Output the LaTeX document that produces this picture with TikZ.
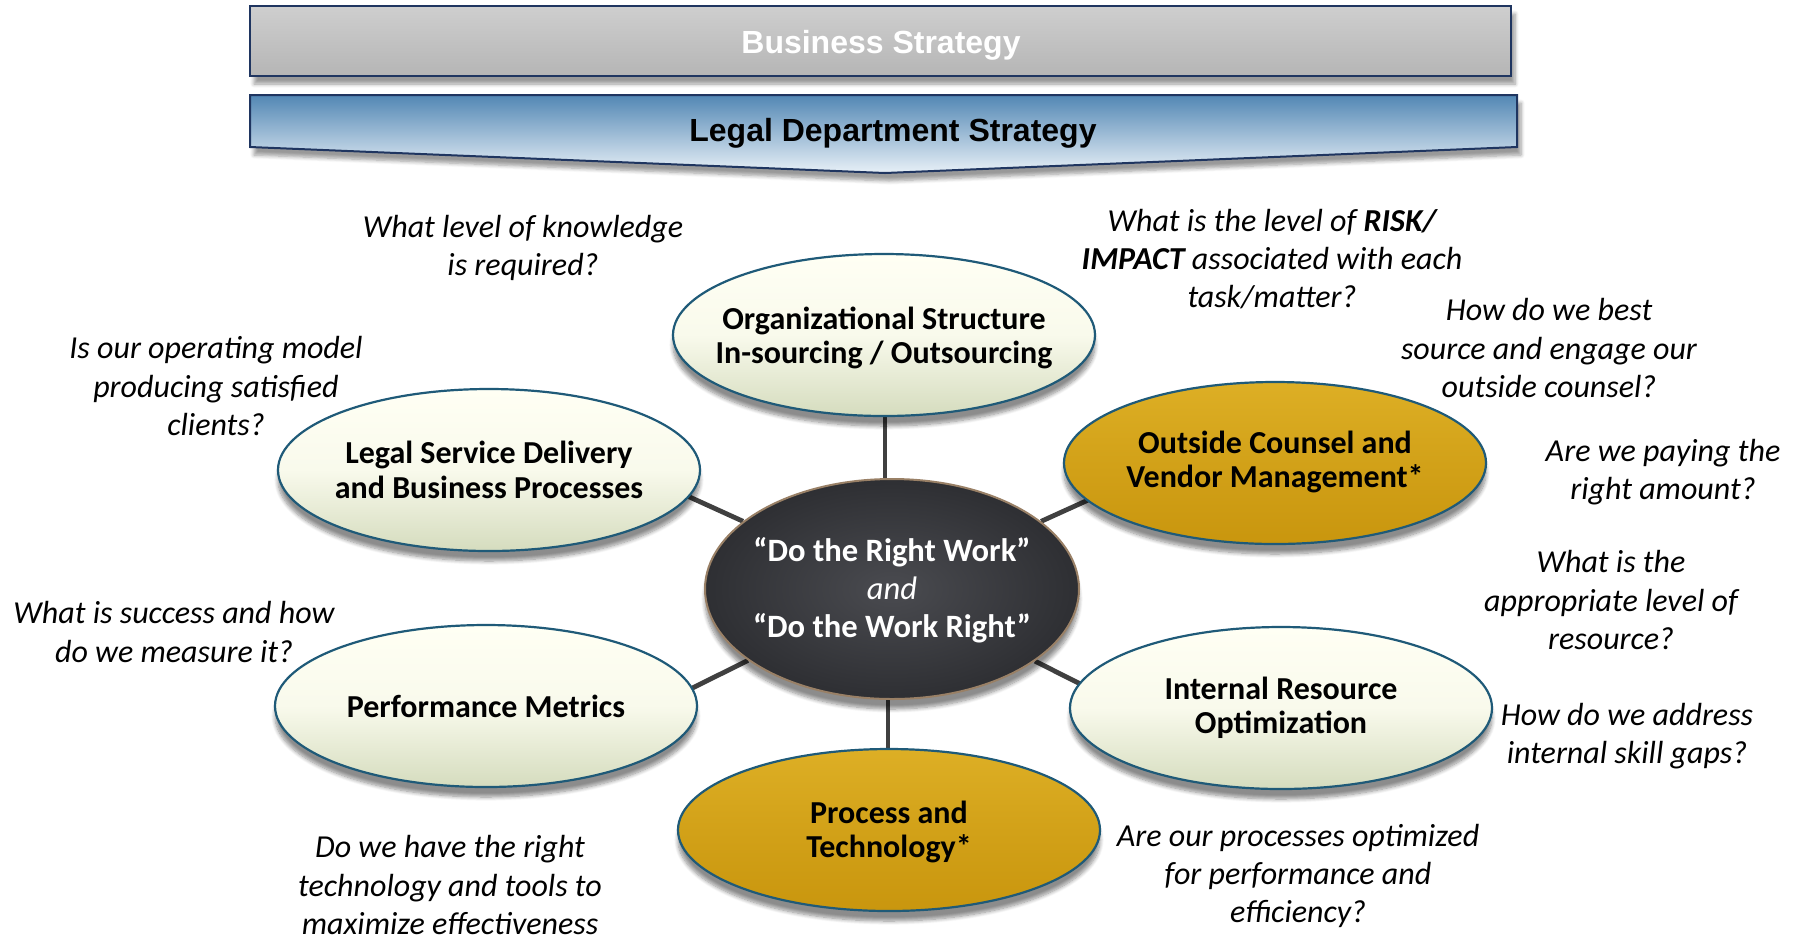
\documentclass[tikz,border=0pt]{standalone}
\usepackage{fontspec}
\setmainfont{Carlito}
\newfontfamily\bannerfont{Liberation Sans}
\usetikzlibrary{shapes.geometric,shadows.blur,backgrounds}

\definecolor{edgeblue}{HTML}{1F5A78}
\definecolor{navy}{HTML}{1F3560}
\definecolor{creamtop}{HTML}{FFFFF4}
\definecolor{creambot}{HTML}{D5DCBE}
\definecolor{goldtop}{HTML}{DDAF25}
\definecolor{goldbot}{HTML}{C9960E}
\definecolor{darkin}{HTML}{4A4B50}
\definecolor{darkout}{HTML}{2E2F33}
\definecolor{linkgray}{HTML}{404040}
\definecolor{chevtop}{HTML}{5287B4}
\definecolor{chevbot}{HTML}{E8F0F7}

\tikzset{
  bubble/.style={ellipse, draw=edgeblue, line width=1.1pt, inner sep=0pt,
    minimum width=211pt, minimum height=81pt,
    blur shadow={shadow xshift=0pt, shadow yshift=-5pt, shadow blur steps=8, shadow opacity=45}},
  cream/.style={bubble, top color=creamtop, bottom color=creambot, middle color=creamtop!85!creambot},
  gold/.style={bubble, top color=goldtop, bottom color=goldbot, middle color=goldbot!55!goldtop},
  btext/.style={align=center, inner sep=0pt, font=\bfseries\fontsize{16}{17.2}\selectfont},
  hub/.style={ellipse, draw=brown!40!gray, line width=1pt, inner sep=0pt,
    minimum width=187pt, minimum height=110pt,
    inner color=darkin, outer color=darkout,
    blur shadow={shadow xshift=0pt, shadow yshift=-5pt, shadow blur steps=8, shadow opacity=45}},
  hubtext/.style={align=center, inner sep=0pt, text=white, font=\bfseries\fontsize{16.3}{19}\selectfont},
  note/.style={align=center, font=\itshape\fontsize{16}{19.1}\selectfont},
  link/.style={draw=linkgray, line width=2.4pt},
  banner/.style={font=\bannerfont\bfseries\fontsize{16}{19}\selectfont}
}

\begin{document}
\begin{tikzpicture}[x=0.5pt,y=-0.5pt]
\useasboundingbox (0,0) rectangle (1798,939);

% top banner: business strategy
\path[draw=navy, line width=1pt, top color=gray!38, bottom color=gray!58,
  blur shadow={shadow xshift=2pt, shadow yshift=-4pt, shadow blur steps=6, shadow opacity=40}]
  (250,6) rectangle (1511,76);
\node[banner, text=white] (bs) at (881,45) {Business Strategy};

% chevron: legal department strategy
\path[draw=navy, line width=1pt, top color=chevtop, bottom color=chevbot,
  blur shadow={shadow xshift=2pt, shadow yshift=-4pt, shadow blur steps=6, shadow opacity=40}]
  (250,95) -- (1517,95) -- (1517,147) -- (885,173) -- (250,147) -- cycle;
\node[banner] (lds) at (893,133) {Legal Department Strategy};

% hub and surrounding topics
\node[hub] (c) at (892,589) {};
\node[hubtext] (ct) at ([yshift=-0.5pt]c) {“Do the Right Work”\\{\mdseries\itshape and}\\“Do the Work Right”};

\node[cream] (org) at (884,335) {};
\node[gold]  (oc)  at (1275,463) {};
\node[cream] (ls)  at (489,470) {};
\node[cream] (pm)  at (486,706) {};
\node[cream] (ir)  at (1281,708) {};
\node[gold]  (pt)  at (889,830) {};

\node[btext] (org-t) at ([yshift=-1.5pt]org) {Organizational Structure\\In-sourcing / Outsourcing};
\node[btext] (ls-t)  at (ls)  {Legal Service Delivery\\and Business Processes};
\node[btext] (oc-t)  at ([yshift=0.5pt]oc) {Outside Counsel and\\Vendor Management*};
\node[btext] (pm-t)  at (pm)  {Performance Metrics};
\node[btext] (ir-t)  at (ir)  {Internal Resource\\Optimization};
\node[btext] (pt-t)  at ([yshift=-1pt]pt) {Process and\\Technology*};

\coordinate (c-up)   at (885,560);
\coordinate (c-down) at (888,620);
\coordinate (ls-in)  at (650,479);
\coordinate (oc-in)  at (1130,481);
\coordinate (pm-in)  at (650,709);
\coordinate (ir-in)  at (1130,709);
\coordinate (org-in) at (885,360);
\coordinate (pt-in)  at (888,800);

\begin{pgfonlayer}{background}
  \draw[link] (c-up) -- (org-in);
  \draw[link] (c-down) -- (pt-in);
  \draw[link] (c) -- (ls-in);
  \draw[link] (c) -- (oc-in);
  \draw[link] (c) -- (pm-in);
  \draw[link] (c) -- (ir-in);
\end{pgfonlayer}

% questions
\node[note] (q1)  at (523,248)  {What level of knowledge\\is required?};
\node[note] (q2)  at (1272,259) {What is the level of {\bfseries RISK/}\\{\bfseries IMPACT} associated with each\\task/matter?};
\node[note] (q3)  at (1549,348) {How do we best\\source and engage our\\outside counsel?};
\node[note] (q4)  at (216,386)  {Is our operating model\\producing satisfied\\clients?};
\node[note] (q5)  at (1663,472) {Are we paying the\\right amount?};
\node[note] (q6)  at (1611,600) {What is the\\appropriate level of\\resource?};
\node[note] (q7)  at (174,632)  {What is success and how\\do we measure it?};
\node[note] (q8)  at (1627,736) {How do we address\\internal skill gaps?};
\node[note] (q9)  at (450,885)  {Do we have the right\\technology and tools to\\maximize effectiveness};
\node[note] (q10) at (1298,876) {Are our processes optimized\\for performance and\\efficiency?};
\end{tikzpicture}
\end{document}
